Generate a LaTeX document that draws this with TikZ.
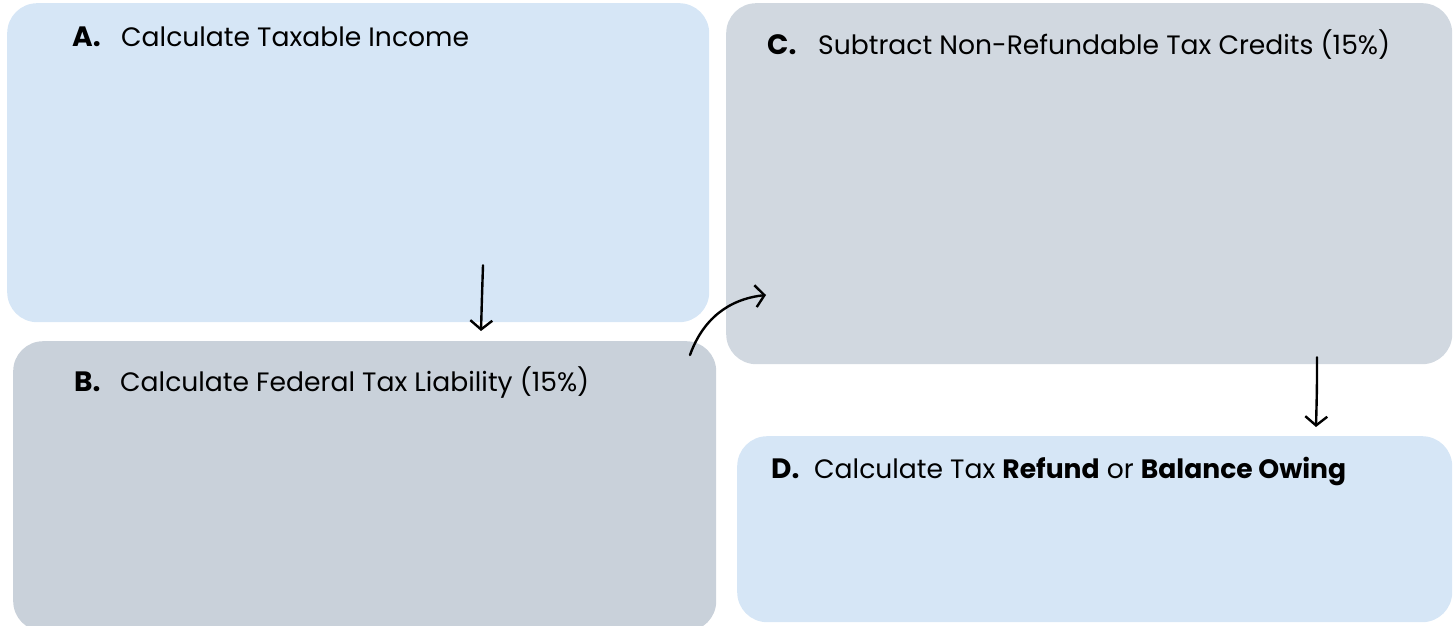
\documentclass[tikz,border=0pt]{standalone}
\usepackage{fontspec}
\setmainfont{Poppins}
\usetikzlibrary{calc,arrows.meta}
\definecolor{stepblue}{RGB}{214,230,246}
\definecolor{stepgrey}{RGB}{201,209,218}
\definecolor{stepslate}{RGB}{209,216,224}
\tikzset{
  card/.style={
    rectangle,
    rounded corners=30pt,
    inner sep=0pt,
    anchor=north west
  },
  card-blue/.style={card, fill=stepblue},
  card-grey/.style={card, fill=stepgrey},
  card-slate/.style={card, fill=stepslate},
  tag/.style={anchor=base west, inner sep=0pt, font=\fontsize{28}{32}\selectfont\bfseries},
  title/.style={anchor=base west, inner sep=0pt, font=\fontsize{26.6}{31}\selectfont},
  sketch/.style={line width=2.4pt, line cap=round, line join=round,
    -{Straight Barb[length=9pt,width=22pt,line width=2.4pt]}}
}

\begin{document}
\begin{tikzpicture}[x=1pt,y=1pt]
  \useasboundingbox (0,0) rectangle (1455,625);
  % Step cards
  \node[card-blue, minimum width=702pt, minimum height=319pt] (boxA) at (7,622) {};
  \node[card-grey, minimum width=703pt, minimum height=290pt] (boxB) at (13,284) {};
  \node[card-slate, minimum width=726pt, minimum height=361pt] (boxC) at (726,622) {};
  \node[card-blue, minimum width=715pt, minimum height=186pt] (boxD) at (737,189) {};
  % Headings
  \node[tag] (tagA) at ($(boxA.north west)+(65,-44)$) {A.};
  \node[title] (textA) at ($(boxA.north west)+(114,-44)$) {Calculate Taxable Income};
  \node[tag] (tagB) at ($(boxB.north west)+(61,-50)$) {B.};
  \node[title] (textB) at ($(boxB.north west)+(107,-50)$) {Calculate Federal Tax Liability (15\%)};
  \node[tag] (tagC) at ($(boxC.north west)+(41,-52)$) {C.};
  \node[title] (textC) at ($(boxC.north west)+(92,-52)$) {Subtract Non-Refundable Tax Credits (15\%)};
  \node[tag] (tagD) at ($(boxD.north west)+(34,-42)$) {D.};
  \node[title] (textD) at ($(boxD.north west)+(77,-42)$) {Calculate Tax \textbf{Refund} or \textbf{Balance Owing}};
  % Arrow ends
  \coordinate (ab1) at ($(boxA.south west)+(476,57)$);
  \coordinate (ab2) at ($(boxB.north west)+(468,10)$);
  \coordinate (bc1) at ($(boxB.north west)+(677,-14)$);
  \coordinate (bc2) at ($(boxC.north west)+(40,-292)$);
  \coordinate (cd1) at ($(boxC.south west)+(591,7)$);
  \coordinate (cd2) at ($(boxD.north west)+(579,9)$);
  % Hand drawn arrows
  \draw[sketch] (ab1) .. controls ($(ab1)+(-1,-30)$) .. (ab2);
  \draw[sketch] (bc1) to[bend left=32] (bc2);
  \draw[sketch] (cd1) .. controls ($(cd1)+(0,-30)$) .. (cd2);
\end{tikzpicture}
\end{document}
